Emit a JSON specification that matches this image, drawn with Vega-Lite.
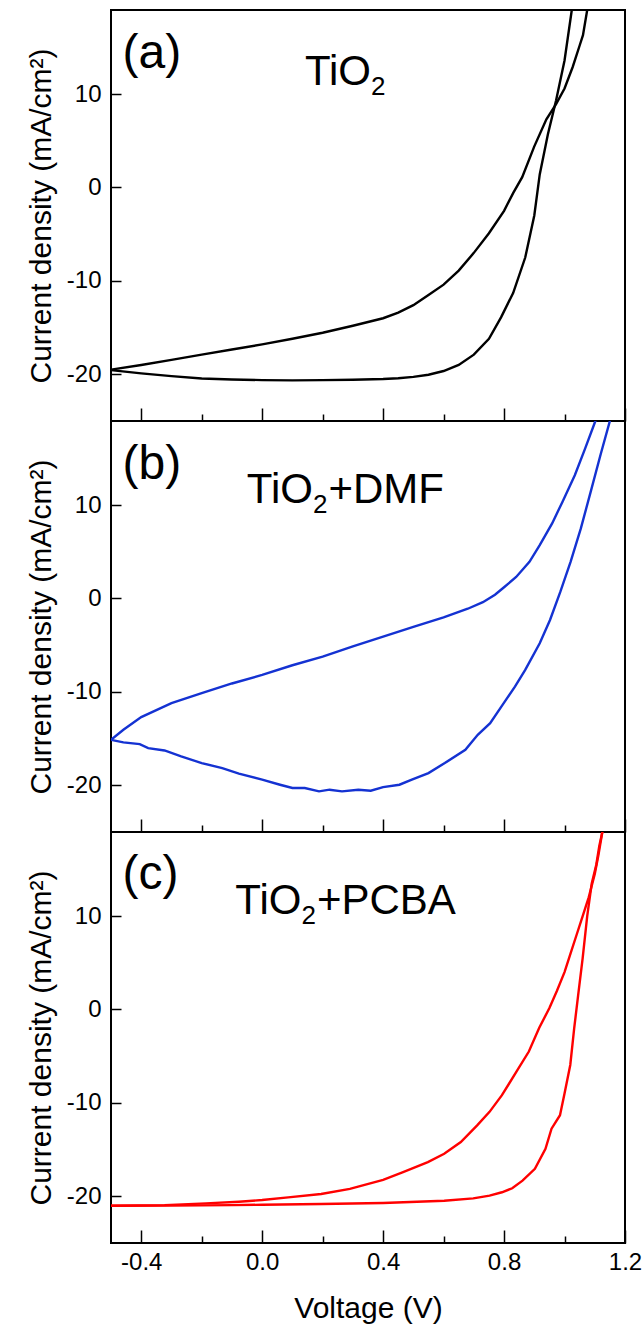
{
  "$schema": "https://vega.github.io/schema/vega-lite/v6.json",
  "background": "white",
  "padding": {"left": 25, "top": 9, "right": 10, "bottom": 5},
  "spacing": 0,
  "bounds": "flush",
  "config": {
    "font": "Liberation Sans",
    "view": {"stroke": "#000", "strokeWidth": 2},
    "axis": {"domain": false, "grid": false, "labelFont": "Liberation Sans", "titleFont": "Liberation Sans", "labelColor": "#000", "titleColor": "#000", "tickColor": "#000", "tickWidth": 1.5, "labelFontSize": 24, "titleFontSize": 30, "titleFontWeight": "normal", "labelFlush": false, "labelOverlap": false},
    "text": {"font": "Liberation Sans", "color": "#000"}
  },
  "datasets": {
    "curves": [
      {"p":"a","s":"r","v":-0.5,"j":-19.5},{"p":"a","s":"r","v":-0.4,"j":-19.0},{"p":"a","s":"r","v":-0.3,"j":-18.45},{"p":"a","s":"r","v":-0.2,"j":-17.9},{"p":"a","s":"r","v":-0.1,"j":-17.35},{"p":"a","s":"r","v":0.0,"j":-16.8},{"p":"a","s":"r","v":0.1,"j":-16.2},{"p":"a","s":"r","v":0.2,"j":-15.55},{"p":"a","s":"r","v":0.3,"j":-14.8},{"p":"a","s":"r","v":0.4,"j":-14.0},{"p":"a","s":"r","v":0.45,"j":-13.4},{"p":"a","s":"r","v":0.5,"j":-12.6},{"p":"a","s":"r","v":0.55,"j":-11.5},{"p":"a","s":"r","v":0.6,"j":-10.4},{"p":"a","s":"r","v":0.65,"j":-8.9},{"p":"a","s":"r","v":0.7,"j":-7.0},{"p":"a","s":"r","v":0.75,"j":-4.9},{"p":"a","s":"r","v":0.8,"j":-2.5},{"p":"a","s":"r","v":0.83,"j":-0.6},{"p":"a","s":"r","v":0.86,"j":1.1},{"p":"a","s":"r","v":0.9,"j":4.4},{"p":"a","s":"r","v":0.94,"j":7.3},{"p":"a","s":"r","v":0.972,"j":8.93},{"p":"a","s":"r","v":1.0,"j":10.6},{"p":"a","s":"r","v":1.027,"j":12.9},{"p":"a","s":"r","v":1.05,"j":15.2},{"p":"a","s":"r","v":1.061,"j":16.3},{"p":"a","s":"r","v":1.075,"j":19.0},{"p":"a","s":"r","v":1.085,"j":21.0},
      {"p":"a","s":"f","v":-0.5,"j":-19.55},{"p":"a","s":"f","v":-0.4,"j":-19.9},{"p":"a","s":"f","v":-0.3,"j":-20.2},{"p":"a","s":"f","v":-0.2,"j":-20.45},{"p":"a","s":"f","v":-0.1,"j":-20.55},{"p":"a","s":"f","v":0.0,"j":-20.62},{"p":"a","s":"f","v":0.1,"j":-20.65},{"p":"a","s":"f","v":0.2,"j":-20.62},{"p":"a","s":"f","v":0.3,"j":-20.58},{"p":"a","s":"f","v":0.4,"j":-20.5},{"p":"a","s":"f","v":0.45,"j":-20.42},{"p":"a","s":"f","v":0.5,"j":-20.28},{"p":"a","s":"f","v":0.55,"j":-20.05},{"p":"a","s":"f","v":0.6,"j":-19.65},{"p":"a","s":"f","v":0.65,"j":-19.0},{"p":"a","s":"f","v":0.7,"j":-17.9},{"p":"a","s":"f","v":0.75,"j":-16.2},{"p":"a","s":"f","v":0.79,"j":-13.9},{"p":"a","s":"f","v":0.83,"j":-11.3},{"p":"a","s":"f","v":0.87,"j":-7.5},{"p":"a","s":"f","v":0.9,"j":-3.0},{"p":"a","s":"f","v":0.918,"j":1.4},{"p":"a","s":"f","v":0.945,"j":5.7},{"p":"a","s":"f","v":0.972,"j":9.3},{"p":"a","s":"f","v":1.0,"j":13.6},{"p":"a","s":"f","v":1.024,"j":19.0},{"p":"a","s":"f","v":1.035,"j":22.0},
      {"p":"b","s":"r","v":-0.5,"j":-15.13},{"p":"b","s":"r","v":-0.459,"j":-14.06},{"p":"b","s":"r","v":-0.4,"j":-12.7},{"p":"b","s":"r","v":-0.3,"j":-11.2},{"p":"b","s":"r","v":-0.2,"j":-10.14},{"p":"b","s":"r","v":-0.1,"j":-9.1},{"p":"b","s":"r","v":0.0,"j":-8.18},{"p":"b","s":"r","v":0.1,"j":-7.15},{"p":"b","s":"r","v":0.2,"j":-6.22},{"p":"b","s":"r","v":0.3,"j":-5.13},{"p":"b","s":"r","v":0.4,"j":-4.09},{"p":"b","s":"r","v":0.5,"j":-3.05},{"p":"b","s":"r","v":0.6,"j":-2.02},{"p":"b","s":"r","v":0.68,"j":-1.1},{"p":"b","s":"r","v":0.73,"j":-0.4},{"p":"b","s":"r","v":0.77,"j":0.4},{"p":"b","s":"r","v":0.8,"j":1.2},{"p":"b","s":"r","v":0.84,"j":2.3},{"p":"b","s":"r","v":0.884,"j":3.93},{"p":"b","s":"r","v":0.918,"j":5.71},{"p":"b","s":"r","v":0.959,"j":8.03},{"p":"b","s":"r","v":0.993,"j":10.34},{"p":"b","s":"r","v":1.034,"j":13.19},{"p":"b","s":"r","v":1.068,"j":16.04},{"p":"b","s":"r","v":1.102,"j":19.0},{"p":"b","s":"r","v":1.12,"j":21.0},
      {"p":"b","s":"f","v":-0.5,"j":-15.13},{"p":"b","s":"f","v":-0.459,"j":-15.41},{"p":"b","s":"f","v":-0.405,"j":-15.59},{"p":"b","s":"f","v":-0.377,"j":-16.02},{"p":"b","s":"f","v":-0.323,"j":-16.27},{"p":"b","s":"f","v":-0.268,"j":-16.91},{"p":"b","s":"f","v":-0.2,"j":-17.62},{"p":"b","s":"f","v":-0.132,"j":-18.16},{"p":"b","s":"f","v":-0.077,"j":-18.76},{"p":"b","s":"f","v":0.0,"j":-19.4},{"p":"b","s":"f","v":0.059,"j":-19.94},{"p":"b","s":"f","v":0.1,"j":-20.29},{"p":"b","s":"f","v":0.141,"j":-20.29},{"p":"b","s":"f","v":0.188,"j":-20.65},{"p":"b","s":"f","v":0.223,"j":-20.47},{"p":"b","s":"f","v":0.264,"j":-20.65},{"p":"b","s":"f","v":0.318,"j":-20.47},{"p":"b","s":"f","v":0.359,"j":-20.58},{"p":"b","s":"f","v":0.4,"j":-20.19},{"p":"b","s":"f","v":0.454,"j":-19.94},{"p":"b","s":"f","v":0.495,"j":-19.4},{"p":"b","s":"f","v":0.55,"j":-18.69},{"p":"b","s":"f","v":0.604,"j":-17.62},{"p":"b","s":"f","v":0.672,"j":-16.2},{"p":"b","s":"f","v":0.713,"j":-14.6},{"p":"b","s":"f","v":0.754,"j":-13.35},{"p":"b","s":"f","v":0.795,"j":-11.39},{"p":"b","s":"f","v":0.836,"j":-9.43},{"p":"b","s":"f","v":0.87,"j":-7.65},{"p":"b","s":"f","v":0.918,"j":-4.8},{"p":"b","s":"f","v":0.952,"j":-2.3},{"p":"b","s":"f","v":0.986,"j":0.7},{"p":"b","s":"f","v":1.02,"j":3.93},{"p":"b","s":"f","v":1.054,"j":7.5},{"p":"b","s":"f","v":1.088,"j":11.6},{"p":"b","s":"f","v":1.12,"j":15.5},{"p":"b","s":"f","v":1.15,"j":19.0},{"p":"b","s":"f","v":1.16,"j":20.5},
      {"p":"c","s":"r","v":-0.5,"j":-21.01},{"p":"c","s":"r","v":-0.323,"j":-20.94},{"p":"c","s":"r","v":-0.186,"j":-20.76},{"p":"c","s":"r","v":-0.077,"j":-20.58},{"p":"c","s":"r","v":0.0,"j":-20.4},{"p":"c","s":"r","v":0.086,"j":-20.11},{"p":"c","s":"r","v":0.195,"j":-19.75},{"p":"c","s":"r","v":0.29,"j":-19.21},{"p":"c","s":"r","v":0.4,"j":-18.24},{"p":"c","s":"r","v":0.466,"j":-17.42},{"p":"c","s":"r","v":0.548,"j":-16.34},{"p":"c","s":"r","v":0.602,"j":-15.45},{"p":"c","s":"r","v":0.657,"j":-14.19},{"p":"c","s":"r","v":0.711,"j":-12.4},{"p":"c","s":"r","v":0.752,"j":-10.96},{"p":"c","s":"r","v":0.793,"j":-9.17},{"p":"c","s":"r","v":0.841,"j":-6.66},{"p":"c","s":"r","v":0.882,"j":-4.5},{"p":"c","s":"r","v":0.916,"j":-1.99},{"p":"c","s":"r","v":0.95,"j":0.16},{"p":"c","s":"r","v":0.975,"j":2.0},{"p":"c","s":"r","v":1.0,"j":4.0},{"p":"c","s":"r","v":1.02,"j":6.0},{"p":"c","s":"r","v":1.04,"j":8.0},{"p":"c","s":"r","v":1.06,"j":10.0},{"p":"c","s":"r","v":1.08,"j":12.0},{"p":"c","s":"r","v":1.1,"j":14.5},{"p":"c","s":"r","v":1.112,"j":16.5},{"p":"c","s":"r","v":1.125,"j":19.0},{"p":"c","s":"r","v":1.13,"j":20.0},
      {"p":"c","s":"f","v":-0.5,"j":-21.01},{"p":"c","s":"f","v":-0.3,"j":-21.0},{"p":"c","s":"f","v":-0.1,"j":-20.95},{"p":"c","s":"f","v":0.0,"j":-20.9},{"p":"c","s":"f","v":0.195,"j":-20.83},{"p":"c","s":"f","v":0.4,"j":-20.72},{"p":"c","s":"f","v":0.602,"j":-20.47},{"p":"c","s":"f","v":0.698,"j":-20.22},{"p":"c","s":"f","v":0.752,"j":-19.93},{"p":"c","s":"f","v":0.793,"j":-19.57},{"p":"c","s":"f","v":0.827,"j":-19.14},{"p":"c","s":"f","v":0.861,"j":-18.32},{"p":"c","s":"f","v":0.902,"j":-17.06},{"p":"c","s":"f","v":0.937,"j":-14.91},{"p":"c","s":"f","v":0.957,"j":-12.76},{"p":"c","s":"f","v":0.985,"j":-11.32},{"p":"c","s":"f","v":1.0,"j":-9.0},{"p":"c","s":"f","v":1.019,"j":-5.94},{"p":"c","s":"f","v":1.032,"j":-2.0},{"p":"c","s":"f","v":1.045,"j":1.5},{"p":"c","s":"f","v":1.06,"j":5.5},{"p":"c","s":"f","v":1.075,"j":10.0},{"p":"c","s":"f","v":1.09,"j":13.5},{"p":"c","s":"f","v":1.105,"j":15.5},{"p":"c","s":"f","v":1.115,"j":17.5},{"p":"c","s":"f","v":1.125,"j":19.0},{"p":"c","s":"f","v":1.13,"j":20.0}
    ],
    "tags": [
      {"p":"a","v":-0.462,"j":12.83,"label":"(a)"},
      {"p":"b","v":-0.462,"j":12.8,"label":"(b)"},
      {"p":"c","v":-0.462,"j":12.88,"label":"(c)"}
    ],
    "names": [
      {"p":"a","v":0.36,"j":11.0,"pre":"TiO","sub":"2","post":""},
      {"p":"b","v":0.168,"j":10.2,"pre":"TiO","sub":"2","post":"+DMF"},
      {"p":"c","v":0.13,"j":10.2,"pre":"TiO","sub":"2","post":"+PCBA"}
    ]
  },
  "vconcat": [
    {
      "width": 514, "height": 411,
      "layer": [
        {"data": {"name": "curves"}, "transform": [{"filter": "datum.p === 'a'"}],
         "mark": {"type": "line", "color": "#000000", "strokeWidth": 2.4, "clip": true},
         "encoding": {
           "x": {"field": "v", "type": "quantitative", "scale": {"domain": [-0.5, 1.2], "nice": false, "zero": false},
                 "axis": {"title": null, "values": [-0.4,-0.2,0,0.2,0.4,0.6,0.8,1.0,1.2], "labels": false,
                          "tickSize": {"condition": {"test": "abs(round(datum.value*10)) % 4 == 0", "value": -13}, "value": -7}}},
           "y": {"field": "j", "type": "quantitative", "scale": {"domain": [-25, 19], "nice": false, "zero": false},
                 "axis": {"title": "Current density (mA/cm²)", "values": [-20,-10,0,10], "tickSize": -10, "labelPadding": 20, "titlePadding": 10,
                          "labelExpr": "datum.value < 0 ? '-' + format(-datum.value, 'd') : format(datum.value, 'd')"}},
           "order": {"field": "v", "type": "quantitative"},
           "detail": {"field": "s"}
         }},
        {"data": {"name": "tags"}, "transform": [{"filter": "datum.p === 'a'"}],
         "mark": {"type": "text", "fontSize": 48, "align": "left", "baseline": "alphabetic"},
         "encoding": {"x": {"field": "v", "type": "quantitative"}, "y": {"field": "j", "type": "quantitative"}, "text": {"field": "label"}}},
        {"data": {"name": "names"}, "transform": [{"filter": "datum.p === 'a'"}],
         "mark": {"type": "text", "fontSize": 42, "align": "right", "baseline": "alphabetic"},
         "encoding": {"x": {"field": "v", "type": "quantitative"}, "y": {"field": "j", "type": "quantitative"}, "text": {"field": "pre"}}},
        {"data": {"name": "names"}, "transform": [{"filter": "datum.p === 'a'"}],
         "mark": {"type": "text", "fontSize": 26, "align": "left", "baseline": "alphabetic", "dy": 10},
         "encoding": {"x": {"field": "v", "type": "quantitative"}, "y": {"field": "j", "type": "quantitative"}, "text": {"field": "sub"}}},
        {"data": {"name": "names"}, "transform": [{"filter": "datum.p === 'a'"}],
         "mark": {"type": "text", "fontSize": 42, "align": "left", "baseline": "alphabetic", "dx": 15.5},
         "encoding": {"x": {"field": "v", "type": "quantitative"}, "y": {"field": "j", "type": "quantitative"}, "text": {"field": "post"}}}
      ]
    },
    {
      "width": 514, "height": 411,
      "layer": [
        {"data": {"name": "curves"}, "transform": [{"filter": "datum.p === 'b'"}],
         "mark": {"type": "line", "color": "#1432d2", "strokeWidth": 2.4, "clip": true},
         "encoding": {
           "x": {"field": "v", "type": "quantitative", "scale": {"domain": [-0.5, 1.2], "nice": false, "zero": false},
                 "axis": {"title": null, "values": [-0.4,-0.2,0,0.2,0.4,0.6,0.8,1.0,1.2], "labels": false,
                          "tickSize": {"condition": {"test": "abs(round(datum.value*10)) % 4 == 0", "value": -13}, "value": -7}}},
           "y": {"field": "j", "type": "quantitative", "scale": {"domain": [-25, 19], "nice": false, "zero": false},
                 "axis": {"title": "Current density (mA/cm²)", "values": [-20,-10,0,10], "tickSize": -10, "labelPadding": 20, "titlePadding": 10,
                          "labelExpr": "datum.value < 0 ? '-' + format(-datum.value, 'd') : format(datum.value, 'd')"}},
           "order": {"field": "v", "type": "quantitative"},
           "detail": {"field": "s"}
         }},
        {"data": {"name": "tags"}, "transform": [{"filter": "datum.p === 'b'"}],
         "mark": {"type": "text", "fontSize": 48, "align": "left", "baseline": "alphabetic"},
         "encoding": {"x": {"field": "v", "type": "quantitative"}, "y": {"field": "j", "type": "quantitative"}, "text": {"field": "label"}}},
        {"data": {"name": "names"}, "transform": [{"filter": "datum.p === 'b'"}],
         "mark": {"type": "text", "fontSize": 42, "align": "right", "baseline": "alphabetic"},
         "encoding": {"x": {"field": "v", "type": "quantitative"}, "y": {"field": "j", "type": "quantitative"}, "text": {"field": "pre"}}},
        {"data": {"name": "names"}, "transform": [{"filter": "datum.p === 'b'"}],
         "mark": {"type": "text", "fontSize": 26, "align": "left", "baseline": "alphabetic", "dy": 10},
         "encoding": {"x": {"field": "v", "type": "quantitative"}, "y": {"field": "j", "type": "quantitative"}, "text": {"field": "sub"}}},
        {"data": {"name": "names"}, "transform": [{"filter": "datum.p === 'b'"}],
         "mark": {"type": "text", "fontSize": 42, "align": "left", "baseline": "alphabetic", "dx": 15.5},
         "encoding": {"x": {"field": "v", "type": "quantitative"}, "y": {"field": "j", "type": "quantitative"}, "text": {"field": "post"}}}
      ]
    },
    {
      "width": 514, "height": 411,
      "layer": [
        {"data": {"name": "curves"}, "transform": [{"filter": "datum.p === 'c'"}],
         "mark": {"type": "line", "color": "#ff0000", "strokeWidth": 2.4, "clip": true},
         "encoding": {
           "x": {"field": "v", "type": "quantitative", "scale": {"domain": [-0.5, 1.2], "nice": false, "zero": false},
                 "axis": {"title": "Voltage (V)", "values": [-0.4,-0.2,0,0.2,0.4,0.6,0.8,1.0,1.2], "labelPadding": 20, "titlePadding": 13,
                          "tickSize": {"condition": {"test": "abs(round(datum.value*10)) % 4 == 0", "value": -13}, "value": -7},
                          "labelExpr": "abs(round(datum.value*10)) % 4 == 0 ? (datum.value < 0 ? '-' + format(-datum.value, '.1f') : format(datum.value, '.1f')) : ''"}},
           "y": {"field": "j", "type": "quantitative", "scale": {"domain": [-25, 19], "nice": false, "zero": false},
                 "axis": {"title": "Current density (mA/cm²)", "values": [-20,-10,0,10], "tickSize": -10, "labelPadding": 20, "titlePadding": 10,
                          "labelExpr": "datum.value < 0 ? '-' + format(-datum.value, 'd') : format(datum.value, 'd')"}},
           "order": {"field": "v", "type": "quantitative"},
           "detail": {"field": "s"}
         }},
        {"data": {"name": "tags"}, "transform": [{"filter": "datum.p === 'c'"}],
         "mark": {"type": "text", "fontSize": 48, "align": "left", "baseline": "alphabetic"},
         "encoding": {"x": {"field": "v", "type": "quantitative"}, "y": {"field": "j", "type": "quantitative"}, "text": {"field": "label"}}},
        {"data": {"name": "names"}, "transform": [{"filter": "datum.p === 'c'"}],
         "mark": {"type": "text", "fontSize": 42, "align": "right", "baseline": "alphabetic"},
         "encoding": {"x": {"field": "v", "type": "quantitative"}, "y": {"field": "j", "type": "quantitative"}, "text": {"field": "pre"}}},
        {"data": {"name": "names"}, "transform": [{"filter": "datum.p === 'c'"}],
         "mark": {"type": "text", "fontSize": 26, "align": "left", "baseline": "alphabetic", "dy": 10},
         "encoding": {"x": {"field": "v", "type": "quantitative"}, "y": {"field": "j", "type": "quantitative"}, "text": {"field": "sub"}}},
        {"data": {"name": "names"}, "transform": [{"filter": "datum.p === 'c'"}],
         "mark": {"type": "text", "fontSize": 42, "align": "left", "baseline": "alphabetic", "dx": 15.5},
         "encoding": {"x": {"field": "v", "type": "quantitative"}, "y": {"field": "j", "type": "quantitative"}, "text": {"field": "post"}}}
      ]
    }
  ]
}
